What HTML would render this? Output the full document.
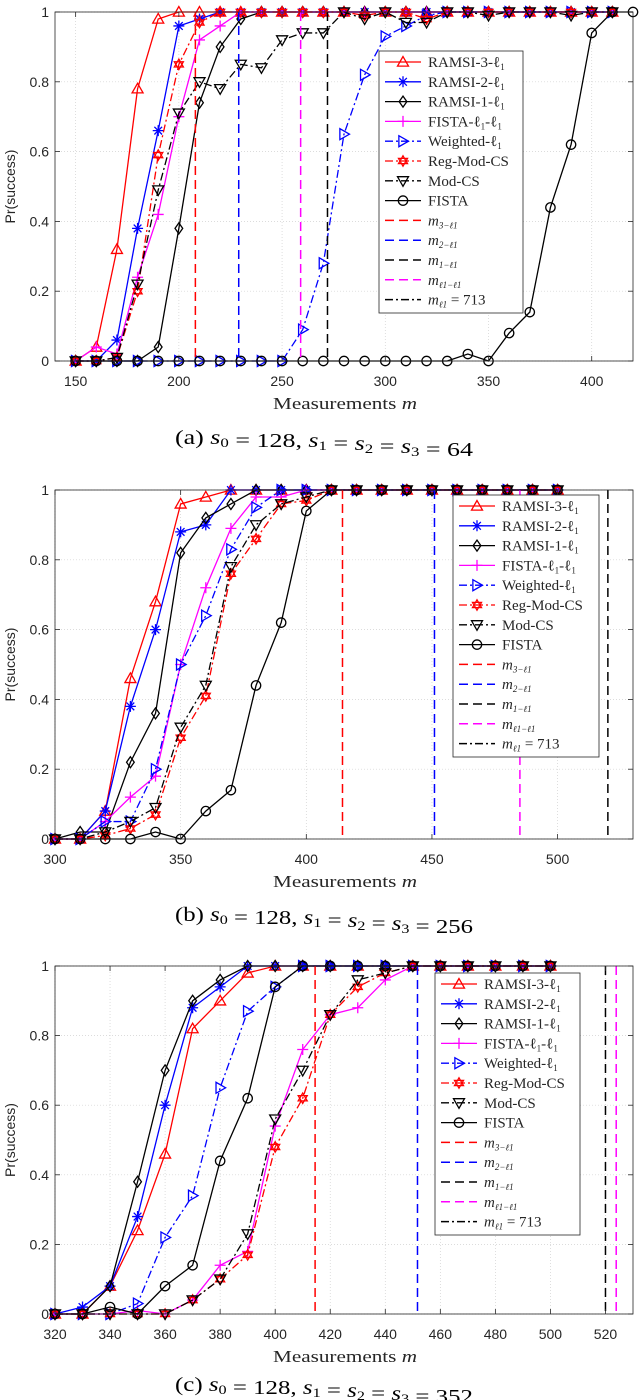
<!DOCTYPE html>
<html><head><meta charset="utf-8"><style>
html,body{margin:0;padding:0;background:#fff;}
svg{display:block;}
</style></head><body>
<svg id="fig" width="640" height="1400" viewBox="0 0 640 1400" xmlns="http://www.w3.org/2000/svg"></svg>
<script>
// ---- Plot (a) data ----
const xA = [150,160,170,180,190,200,210,220,230,240,250,260,270,280,290,300,310,320,330,340,350,360,370,380,390,400,410];
const xAF = [150,160,170,180,190,200,210,220,230,240,250,260,270,280,290,300,310,320,330,340,350,360,370,380,390,400,410,420];
const a_ramsi3 = [0,0.04,0.32,0.78,0.98,1,1,1,1,1,1,1,1,1,1,1,1,1,1,1,1,1,1,1,1,1,1];
const a_ramsi2 = [0,0,0.06,0.38,0.66,0.96,0.98,1,1,1,1,1,1,1,1,1,1,1,1,1,1,1,1,1,1,1,1];
const a_ramsi1 = [0,0,0,0,0.04,0.38,0.74,0.90,0.98,1,1,1,1,1,1,1,1,1,1,1,1,1,1,1,1,1,1];
const a_fistal1 = [0,0.04,0.02,0.24,0.42,0.70,0.92,0.96,1,1,1,1,1,1,1,1,1,1,1,1,1,1,1,1,1,1,1];
const a_weighted = [0,0,0,0,0,0,0,0,0,0,0,0.09,0.28,0.65,0.82,0.93,0.96,0.99,1,1,1,1,1,1,1,1,1];
const a_regmod = [0,0,0.01,0.20,0.59,0.85,0.97,1,1,1,1,1,1,1,0.99,1,1,0.98,1,1,1,1,1,1,1,1,1];
const a_modcs = [0,0,0.01,0.22,0.49,0.71,0.80,0.78,0.85,0.84,0.92,0.94,0.94,1,0.98,1,0.97,0.97,1,1,0.99,1,1,1,0.99,1,1];
const a_fista = [0,0,0,0,0,0,0,0,0,0,0,0,0,0,0,0,0,0,0,0.02,0,0.08,0.14,0.44,0.62,0.94,1,1];
const a_vlines = [208, 229, 272, 259];
// ---- Plot (b) data ----
const xB = [300,310,320,330,340,350,360,370,380,390,400,410,420,430,440,450,460,470,480,490,500];
const b_ramsi3 = [0,0,0.08,0.46,0.68,0.96,0.98,1,1,1,1,1,1,1,1,1,1,1,1,1,1];
const b_ramsi2 = [0,0,0.08,0.38,0.60,0.88,0.90,1,1,1,1,1,1,1,1,1,1,1,1,1,1];
const b_ramsi1 = [0,0.02,0.02,0.22,0.36,0.82,0.92,0.96,1,1,1,1,1,1,1,1,1,1,1,1,1];
const b_fistal1 = [0,0,0.05,0.12,0.18,0.50,0.72,0.89,0.98,0.98,1,1,1,1,1,1,1,1,1,1,1];
const b_weighted = [0,0,0.05,0.05,0.20,0.50,0.64,0.83,0.95,1,1,1,1,1,1,1,1,1,1,1,1];
const b_regmod = [0,0,0.01,0.03,0.07,0.29,0.41,0.76,0.86,0.96,0.97,1,1,1,1,1,1,1,1,1,1];
const b_modcs = [0,0,0.02,0.05,0.09,0.32,0.44,0.78,0.90,0.96,0.98,1,1,1,1,1,1,1,1,1,1];
const b_fista = [0,0,0,0,0.02,0,0.08,0.14,0.44,0.62,0.94,1,1,1,1,1,1,1,1,1,1];
const b_vlines = [414.4, 451, 520, 485];
// ---- Plot (c) data ----
const xC = [320,330,340,350,360,370,380,390,400,410,420,430,440,450,460,470,480,490,500];
const c_ramsi3 = [0,0,0.08,0.24,0.46,0.82,0.90,0.98,1,1,1,1,1,1,1,1,1,1,1];
const c_ramsi2 = [0,0.02,0.08,0.28,0.60,0.88,0.94,1,1,1,1,1,1,1,1,1,1,1,1];
const c_ramsi1 = [0,0,0.08,0.38,0.70,0.90,0.96,1,1,1,1,1,1,1,1,1,1,1,1];
const c_fistal1 = [0,0,0,0.01,0,0.04,0.14,0.18,0.54,0.76,0.86,0.88,0.96,1,1,1,1,1,1];
const c_weighted = [0,0,0,0.03,0.22,0.34,0.65,0.87,0.94,1,1,1,1,1,1,1,1,1,1];
const c_regmod = [0,0,0,0,0,0.04,0.10,0.17,0.48,0.62,0.86,0.94,0.98,1,1,1,1,1,1];
const c_modcs = [0,0,0,0,0,0.04,0.10,0.23,0.56,0.70,0.86,0.96,0.98,1,1,1,1,1,1];
const c_fista = [0,0,0.02,0,0.08,0.14,0.44,0.62,0.94,1,1,1,1,1,1,1,1,1,1];
const c_vlines = [414.5, 451.7, 520, 523.9];

const NS = 'http://www.w3.org/2000/svg';
const svg = document.getElementById('fig');
function mk(tag, attrs, parent) {
  const e = document.createElementNS(NS, tag);
  for (const k in attrs) e.setAttribute(k, attrs[k]);
  (parent || svg).appendChild(e);
  return e;
}
const RED='#ff0000', BLUE='#0000ff', BLK='#000000', MAG='#ff00ff';
const DASH='9,5', DD='8,3,2,3';
const seriesStyle = [
  {name:'RAMSI-3-', sub:'1', color:RED, dash:'', marker:'tri'},
  {name:'RAMSI-2-', sub:'1', color:BLUE, dash:'', marker:'star'},
  {name:'RAMSI-1-', sub:'1', color:BLK, dash:'', marker:'diamond'},
  {name:'FISTA-', sub:'1', color:MAG, dash:'', marker:'plus', fista:true},
  {name:'Weighted-', sub:'1', color:BLUE, dash:DD, marker:'triR'},
  {name:'Reg-Mod-CS', color:RED, dash:DD, marker:'hex'},
  {name:'Mod-CS', color:BLK, dash:DD, marker:'triD'},
  {name:'FISTA', color:BLK, dash:'', marker:'circle'}
];
const vStyle = [
  {color:RED, label:'3'}, {color:BLUE, label:'2'}, {color:BLK, label:'1'}, {color:MAG, label:'l'}
];

function marker(g, type, x, y, c) {
  const s = {fill:'none', stroke:c, 'stroke-width':1.3};
  let e;
  const r = 5.5;
  if (type==='tri') e = mk('polygon', Object.assign({points:`${x},${y-r} ${x-r},${y+r*0.75} ${x+r},${y+r*0.75}`}, s), g);
  else if (type==='triD') e = mk('polygon', Object.assign({points:`${x},${y+r} ${x-r},${y-r*0.75} ${x+r},${y-r*0.75}`}, s), g);
  else if (type==='triR') e = mk('polygon', Object.assign({points:`${x+r},${y} ${x-r*0.75},${y-r} ${x-r*0.75},${y+r}`}, s), g);
  else if (type==='diamond') e = mk('polygon', Object.assign({points:`${x},${y-r} ${x+r*0.7},${y} ${x},${y+r} ${x-r*0.7},${y}`}, s), g);
  else if (type==='circle') e = mk('circle', Object.assign({cx:x, cy:y, r:r*0.85}, s), g);
  else if (type==='plus') e = mk('path', Object.assign({d:`M${x-r},${y}H${x+r}M${x},${y-r}V${y+r}`}, s), g);
  else if (type==='star') e = mk('path', Object.assign({d:`M${x-r},${y}H${x+r}M${x},${y-r}V${y+r}M${x-r*0.7},${y-r*0.7}L${x+r*0.7},${y+r*0.7}M${x-r*0.7},${y+r*0.7}L${x+r*0.7},${y-r*0.7}`}, s), g);
  else if (type==='hex') {
    const a=r*0.95;
    e = mk('path', Object.assign({d:`M${x},${y-a}L${x+a*0.866},${y+a*0.5}L${x-a*0.866},${y+a*0.5}ZM${x},${y+a}L${x+a*0.866},${y-a*0.5}L${x-a*0.866},${y-a*0.5}Z`}, s), g);
  }
  
  
}

function addLabel(t, st) {
  if (st.fista) {
    t.appendChild(document.createTextNode('FISTA-ℓ'));
    const s1 = mk('tspan', {'font-size':9, dy:3}, t); s1.textContent='1';
    const s2 = mk('tspan', {dy:-3}, t); s2.textContent='-ℓ';
    const s3 = mk('tspan', {'font-size':9, dy:3}, t); s3.textContent='1';
  } else if (st.sub) {
    t.appendChild(document.createTextNode(st.name + 'ℓ'));
    const s1 = mk('tspan', {'font-size':9, dy:3}, t); s1.textContent='1';
  } else t.textContent = st.name;
}

function drawPlot(cfg) {
  const g = mk('g', {});
  
  
  const {L,R,T,B,xmin,xmax} = cfg;
  const sx = v => L + (v - xmin) / (xmax - xmin) * (R - L);
  const sy = v => B - v * (B - T);
  cfg.xticks.forEach(v => {
    const l = mk('line', {x1:sx(v), x2:sx(v), y1:T, y2:B, stroke:'#d0d0d0', 'stroke-width':0.7, 'stroke-dasharray':'1,2'}, g);
    
    
  });
  const yticks = [0,0.2,0.4,0.6,0.8,1];
  const ylabels = ['0','0.2','0.4','0.6','0.8','1'];
  yticks.forEach(v => {
    const l = mk('line', {x1:L, x2:R, y1:sy(v), y2:sy(v), stroke:'#d0d0d0', 'stroke-width':0.7, 'stroke-dasharray':'1,2'}, g);
    
    
  });
  cfg.series.forEach((ys, i) => {
    const st = seriesStyle[i];
    const xs = cfg.xsFor(i);
    const sg = mk('g', {}, g);
    
    
    const pts = ys.map((v, k) => sx(xs[k]) + ',' + sy(v)).join(' ');
    const pl = mk('polyline', {points:pts, fill:'none', stroke:st.color, 'stroke-width':1.3, 'stroke-dasharray':st.dash}, sg);
    
    
    ys.forEach((v, k) => marker(sg, st.marker, sx(xs[k]), sy(v), st.color));
  });
  cfg.vlines.forEach((v, i) => {
    if (v > xmax || v < xmin) return;
    const l = mk('line', {x1:sx(v), x2:sx(v), y1:T, y2:B, stroke:vStyle[i].color, 'stroke-width':1.5, 'stroke-dasharray':DASH}, g);
    
    
  });
  const box = mk('rect', {x:L, y:T, width:R-L, height:B-T, fill:'none', stroke:'#262626', 'stroke-width':0.8}, g);
  
  
  cfg.xticks.forEach(v => {
    mk('line', {x1:sx(v), x2:sx(v), y1:B, y2:B-5, stroke:'#262626', 'stroke-width':0.8}, g);
    mk('line', {x1:sx(v), x2:sx(v), y1:T, y2:T+5, stroke:'#262626', 'stroke-width':0.8}, g);
    const t = mk('text', {x:sx(v), y:B+25, 'text-anchor':'middle', 'font-family':'Liberation Sans, sans-serif', 'font-size':14, fill:'#262626'}, g);
    t.textContent = v;
    
    
  });
  yticks.forEach((v, i) => {
    mk('line', {x1:L, x2:L+5, y1:sy(v), y2:sy(v), stroke:'#262626', 'stroke-width':0.8}, g);
    mk('line', {x1:R, x2:R-5, y1:sy(v), y2:sy(v), stroke:'#262626', 'stroke-width':0.8}, g);
    const t = mk('text', {x:L-6, y:sy(v)+5, 'text-anchor':'end', 'font-family':'Liberation Sans, sans-serif', 'font-size':14, fill:'#262626'}, g);
    t.textContent = ylabels[i];
    
    
  });
  const yt = mk('text', {x:0, y:0, transform:`translate(15,${(T+B)/2}) rotate(-90)`, 'text-anchor':'middle', 'font-family':'Liberation Sans, sans-serif', 'font-size':14, fill:'#262626'}, g);
  yt.textContent = 'Pr(success)';
  
  
  const xt = mk('text', {x:345, y:B+48, 'text-anchor':'middle', 'font-family':'Liberation Serif, serif', 'font-size':17, fill:'#262626', textLength:144, lengthAdjust:'spacingAndGlyphs'}, g);
  xt.appendChild(document.createTextNode('Measurements '));
  const mi = mk('tspan', {'font-style':'italic'}, xt); mi.textContent='m';
  
  
  const cp = mk('text', {x:324, y:B+cfg.capOff, 'text-anchor':'middle', 'font-family':'Liberation Serif, serif', 'font-size':20, fill:'#000', textLength:298, lengthAdjust:'spacingAndGlyphs'}, g);
  
  
  const parts = cfg.caption;
  cp.appendChild(document.createTextNode('(' + parts[0] + ') '));
  const sub = (base, s) => { const a = mk('tspan', {'font-style':'italic'}, cp); a.textContent = base; const b = mk('tspan', {'font-size':13, dy:3}, cp); b.textContent = s; const c = mk('tspan', {dy:-3}, cp); c.textContent=''; };
  sub('s','0'); cp.appendChild(document.createTextNode(' = 128, '));
  sub('s','1'); cp.appendChild(document.createTextNode(' = '));
  sub('s','2'); cp.appendChild(document.createTextNode(' = '));
  sub('s','3'); cp.appendChild(document.createTextNode(' = ' + parts[1]));
  const lg = mk('g', {}, g);
  
  
  const lb = mk('rect', {x:cfg.lgX, y:cfg.lgY, width:cfg.lgW, height:262, fill:'#fff', stroke:'#262626', 'stroke-width':0.8}, lg);
  
  
  const rowH = 19.8;
  for (let i = 0; i < 13; i++) {
    const cy = cfg.lgY + 11 + i * rowH;
    const x0 = cfg.lgX + 6, x1 = cfg.lgX + 42;
    const eg = mk('g', {}, lg);
    
    
    const t = mk('text', {x:cfg.lgX + 49, y:cy + 5, 'font-family':'Liberation Serif, serif', 'font-size':15, fill:'#262626'}, eg);
    if (i < 8) {
      const st = seriesStyle[i];
      mk('line', {x1:x0, x2:x1, y1:cy, y2:cy, stroke:st.color, 'stroke-width':1.3, 'stroke-dasharray':st.dash}, eg);
      marker(eg, st.marker, (x0 + x1) / 2, cy, st.color);
      addLabel(t, st);
    } else if (i < 12) {
      const vs = vStyle[i - 8];
      mk('line', {x1:x0, x2:x1, y1:cy, y2:cy, stroke:vs.color, 'stroke-width':1.5, 'stroke-dasharray':DASH}, eg);
      const m = mk('tspan', {'font-style':'italic'}, t); m.textContent = 'm';
      const s = mk('tspan', {'font-size':9, dy:3, 'font-style':'italic'}, t);
      s.textContent = vs.label === 'l' ? 'ℓ1−ℓ1' : vs.label + '−ℓ1';
    } else {
      mk('line', {x1:x0, x2:x1, y1:cy, y2:cy, stroke:BLK, 'stroke-width':1.5, 'stroke-dasharray':DD}, eg);
      const m = mk('tspan', {'font-style':'italic'}, t); m.textContent = 'm';
      const s = mk('tspan', {'font-size':9, dy:3, 'font-style':'italic'}, t); s.textContent = 'ℓ1';
      const r = mk('tspan', {dy:-3}, t); r.textContent = ' = 713';
    }
  }
}

drawPlot({id:'plot-a', L:55, R:633, T:12, B:361, xmin:140, xmax:420,
  xticks:[150,200,250,300,350,400],
  series:[a_ramsi3,a_ramsi2,a_ramsi1,a_fistal1,a_weighted,a_regmod,a_modcs,a_fista],
  xsFor:i => i === 7 ? xAF : xA,
  vlines:a_vlines, caption:['a','64'], capOff:83, lgX:379, lgY:51, lgW:144});
drawPlot({id:'plot-b', L:55, R:633, T:490, B:839, xmin:300, xmax:530,
  xticks:[300,350,400,450,500],
  series:[b_ramsi3,b_ramsi2,b_ramsi1,b_fistal1,b_weighted,b_regmod,b_modcs,b_fista],
  xsFor:i => xB,
  vlines:b_vlines, caption:['b','256'], capOff:82, lgX:453, lgY:495, lgW:146});
drawPlot({id:'plot-c', L:55, R:633, T:966, B:1314, xmin:320, xmax:530,
  xticks:[320,340,360,380,400,420,440,460,480,500,520],
  series:[c_ramsi3,c_ramsi2,c_ramsi1,c_fistal1,c_weighted,c_regmod,c_modcs,c_fista],
  xsFor:i => xC,
  vlines:c_vlines, caption:['c','352'], capOff:77, lgX:435, lgY:973, lgW:145});
</script>
</body></html>
